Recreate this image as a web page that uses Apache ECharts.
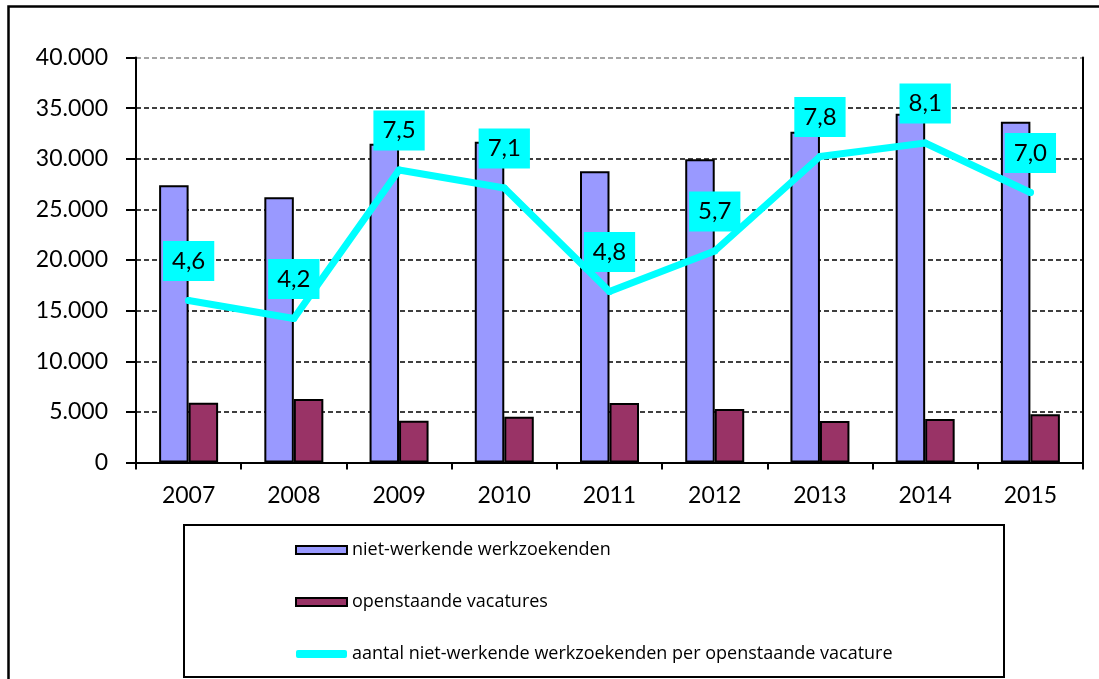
<!DOCTYPE html>
<html>
<head>
<meta charset="utf-8">
<title>werkzoekenden per vacature</title>
<script src="https://cdn.jsdelivr.net/npm/echarts@6/dist/echarts.min.js"></script>
<style>
    html, body { margin: 0; padding: 0; background: #fff; }
    #chart-main { width: 1099px; height: 679px; }
</style>
</head>
<body>
<div id="chart-main"></div>
<script>
// jaren
var years = ["2007", "2008", "2009", "2010", "2011", "2012", "2013", "2014", "2015"];
// niet-werkende werkzoekenden
var werkzoekenden = [27380, 26190, 31490, 31690, 28760, 29950, 32670, 34450, 33660];
// openstaande vacatures
var vacatures = [5910, 6270, 4130, 4520, 5880, 5280, 4100, 4300, 4760];
// aantal per vacature
var perVacature = [4.6, 4.2, 7.5, 7.1, 4.8, 5.7, 7.8, 8.1, 7.0];
var yTicks = [0, 5000, 10000, 15000, 20000, 25000, 30000, 35000, 40000];

var names = [
    "niet-werkende werkzoekenden",
    "openstaande vacatures",
    "aantal niet-werkende werkzoekenden per openstaande vacature"
];

var font = "Lato, 'Open Sans', sans-serif";

function fmtThousand(v) {
    return String(v).replace(/\B(?=(\d{3})+(?!\d))/g, ".");
}

var chart = echarts.init(document.getElementById("chart-main"));

var option = {
    animation: false,
    backgroundColor: "#fff",
    textStyle: {fontFamily: font},
    grid: {left: 136, right: 16, top: 57.5, bottom: 216.5},
    graphic: [
        // buitenrand
        {type: "rect", left: 6, top: 4, z: -1,
            shape: {width: 1200, height: 800},
            style: {fill: "none", stroke: "#000", lineWidth: 2.5}},
        // legendakader
        {type: "rect", left: 183, top: 524,
            shape: {width: 820, height: 152},
            style: {fill: "#fff", stroke: "#000", lineWidth: 2}}
    ],
    legend: {
        orient: "vertical",
        left: 295,
        top: 541,
        padding: 0,
        z: 10,
        itemWidth: 51,
        itemHeight: 8,
        itemGap: 34,
        textStyle: {fontFamily: "'Open Sans', sans-serif", fontSize: 18, color: "#000"},
        data: [
            {name: names[0], icon: "rect"},
            {name: names[1], icon: "rect"},
            {name: names[2], icon: "roundRect", itemStyle: {borderWidth: 0}}
        ]
    },
    xAxis: {
        type: "category",
        data: years,
        axisLine: {lineStyle: {color: "#000", width: 2}},
        axisTick: {show: true, length: 7, lineStyle: {color: "#000", width: 2}},
        axisLabel: {color: "#000", fontSize: 23, margin: 22, fontFamily: font}
    },
    yAxis: [{
        type: "value",
        min: yTicks[0],
        max: yTicks[yTicks.length - 1],
        interval: 5000,
        axisLine: {show: true, lineStyle: {color: "#000", width: 2}},
        axisTick: {show: true, length: 10, lineStyle: {color: "#000", width: 2}},
        axisLabel: {
            color: "#000", fontSize: 23, margin: 28, fontFamily: font,
            formatter: function (v) { return fmtThousand(v); }
        },
        splitLine: {
            show: true,
            lineStyle: {
                color: ["#000", "#000", "#000", "#000", "#000", "#000", "#000", "#000", "#888"],
                type: [5, 3],
                width: 1.6
            }
        }
    }, {
        // verhouding, verborgen as
        type: "value",
        min: 1,
        max: 10,
        position: "right",
        axisLine: {show: true, lineStyle: {color: "#000", width: 2}},
        axisTick: {show: false},
        axisLabel: {show: false},
        splitLine: {show: false}
    }],
    series: [{
        name: names[0],
        type: "bar",
        data: werkzoekenden,
        barWidth: 29.5,
        barGap: "0%",
        itemStyle: {color: "#9999FF", borderColor: "#000", borderWidth: 2}
    }, {
        name: names[1],
        type: "bar",
        data: vacatures,
        barWidth: 29.5,
        itemStyle: {color: "#993366", borderColor: "#000", borderWidth: 2}
    }, {
        name: names[2],
        type: "line",
        yAxisIndex: 1,
        data: perVacature,
        z: 5,
        symbol: "circle",
        symbolSize: 7,
        itemStyle: {color: "#00FFFF"},
        lineStyle: {color: "#00FFFF", width: 7, cap: "round", join: "round"},
        label: {
            show: true,
            position: "top",
            distance: 16,
            color: "#000",
            fontSize: 24,
            fontFamily: font,
            lineHeight: 30,
            backgroundColor: "#00FFFF",
            padding: [5, 9, 5, 9],
            formatter: function (p) {
                return p.value.toFixed(1).replace(".", ",");
            }
        }
    }]
};

chart.setOption(option);

window.addEventListener("resize", function () {
    chart.resize();
});
</script>
</body>
</html>
